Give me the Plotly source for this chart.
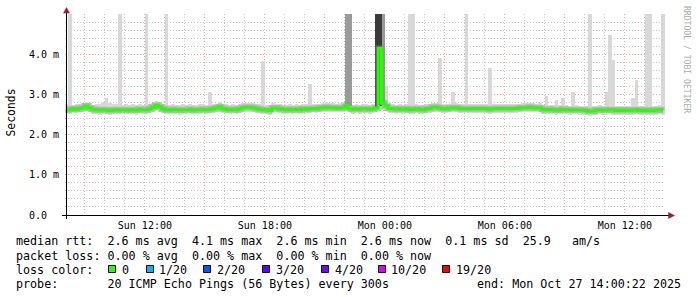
import plotly.graph_objects as go
import pandas as pd

# ---------------- data ----------------
BIN_START = "2025-10-26 08:00:00"
RANGE_START = "2025-10-26 08:00:22"
RANGE_END = "2025-10-27 14:00:22"
STEP_MIN = 10

median_rtt = [
    2.63, 2.62, 2.64, 2.63, 2.65, 2.67, 2.71, 2.66, 2.63, 2.62, 2.61, 2.62, 2.61, 2.60, 2.61, 2.62, 2.61, 2.62,
    2.62, 2.61, 2.62, 2.61, 2.63, 2.62, 2.62, 2.64, 2.68, 2.73, 2.69, 2.64, 2.62, 2.61, 2.63, 2.62, 2.61, 2.62,
    2.62, 2.63, 2.61, 2.62, 2.62, 2.63, 2.62, 2.63, 2.64, 2.66, 2.69, 2.65, 2.63, 2.62, 2.63, 2.62, 2.64, 2.67,
    2.68, 2.68, 2.67, 2.65, 2.63, 2.62, 2.62, 2.60, 2.66, 2.66, 2.64, 2.63, 2.62, 2.63, 2.62, 2.63, 2.62, 2.64,
    2.63, 2.64, 2.65, 2.64, 2.66, 2.67, 2.68, 2.67, 2.67, 2.66, 2.67, 2.66, 2.73, 2.65, 2.63, 2.64, 2.63, 2.64,
    2.64, 2.63, 2.64, 2.66, 4.15, 2.78, 2.72, 2.65, 2.64, 2.63, 2.64, 2.63, 2.64, 2.62, 2.63, 2.64, 2.63, 2.62,
    2.64, 2.65, 2.68, 2.68, 2.66, 2.65, 2.64, 2.66, 2.67, 2.67, 2.65, 2.64, 2.64, 2.65, 2.64, 2.65, 2.64, 2.65,
    2.64, 2.63, 2.64, 2.65, 2.64, 2.65, 2.65, 2.64, 2.65, 2.65, 2.66, 2.67, 2.67, 2.68, 2.67, 2.66, 2.67, 2.63,
    2.62, 2.63, 2.62, 2.61, 2.62, 2.63, 2.62, 2.61, 2.62, 2.62, 2.61, 2.61, 2.60, 2.58, 2.59, 2.61, 2.62, 2.61,
    2.61, 2.62, 2.61, 2.60, 2.61, 2.60, 2.61, 2.60, 2.61, 2.62, 2.60, 2.61, 2.60, 2.61, 2.60, 2.61, 2.62, 2.61,
]

# highest ping of each step (6.0 = beyond the top of the graph)
smoke_hi = [
    2.76, 6.0, 2.74, 2.75, 2.77, 2.78, 2.82, 2.78, 2.74, 2.76, 2.75, 2.80, 2.90, 2.78, 2.76, 2.75, 6.0, 2.74,
    2.75, 2.74, 2.76, 2.73, 2.75, 2.74, 6.0, 2.76, 2.79, 2.84, 2.80, 2.75, 6.0, 2.73, 2.75, 2.74, 2.73, 2.75,
    2.74, 2.75, 2.73, 2.74, 2.76, 2.75, 2.74, 3.05, 2.76, 2.77, 2.80, 2.77, 2.75, 2.74, 2.75, 2.74, 2.76, 2.78,
    2.79, 2.78, 2.78, 2.76, 2.75, 3.83, 2.74, 2.73, 2.78, 2.77, 2.75, 2.74, 2.73, 2.75, 2.74, 2.76, 2.74, 2.75,
    2.75, 3.27, 2.76, 2.75, 2.77, 2.78, 2.80, 2.78, 2.79, 2.77, 2.78, 2.77, 6.0, 6.0, 2.74, 2.75, 2.74, 2.75,
    2.75, 2.74, 2.75, 6.0, 6.0, 6.0, 3.20, 2.76, 2.75, 2.74, 2.75, 2.74, 2.75, 6.0, 6.0, 2.75, 2.74, 2.73,
    2.75, 2.76, 2.79, 2.78, 3.90, 2.76, 2.75, 2.77, 3.05, 2.78, 2.76, 2.75, 6.0, 2.76, 2.75, 2.76, 2.75, 2.76,
    2.75, 3.65, 2.75, 2.76, 2.75, 2.76, 2.77, 2.75, 2.76, 2.76, 2.77, 2.78, 2.79, 2.79, 2.78, 2.77, 2.78, 2.74,
    2.95, 2.74, 2.73, 2.87, 2.74, 2.90, 2.73, 2.72, 3.07, 2.73, 2.72, 2.72, 2.71, 6.0, 2.70, 2.72, 2.73, 2.72,
    3.05, 4.47, 3.85, 2.72, 2.71, 2.72, 2.71, 2.72, 2.90, 3.35, 2.71, 2.72, 6.0, 6.0, 2.72, 2.71, 2.73, 6.0,
]

# lowest ping of each step
smoke_lo = [
    2.54, 2.52, 2.55, 2.53, 2.55, 2.56, 2.59, 2.55, 2.52, 2.51, 2.50, 2.52, 2.51, 2.50, 2.52, 2.51, 2.52, 2.53,
    2.52, 2.51, 2.52, 2.50, 2.53, 2.52, 2.52, 2.54, 2.57, 2.60, 2.57, 2.53, 2.52, 2.51, 2.52, 2.52, 2.50, 2.52,
    2.52, 2.53, 2.51, 2.52, 2.52, 2.53, 2.52, 2.53, 2.54, 2.55, 2.57, 2.54, 2.53, 2.52, 2.53, 2.52, 2.53, 2.56,
    2.57, 2.56, 2.56, 2.54, 2.53, 2.52, 2.51, 2.50, 2.55, 2.55, 2.53, 2.52, 2.52, 2.53, 2.52, 2.53, 2.51, 2.53,
    2.53, 2.54, 2.55, 2.54, 2.55, 2.56, 2.57, 2.56, 2.56, 2.55, 2.56, 2.55, 2.60, 2.55, 2.52, 2.53, 2.52, 2.53,
    2.54, 2.52, 2.53, 2.56, 2.70, 2.62, 2.58, 2.54, 2.53, 2.52, 2.53, 2.52, 2.53, 2.51, 2.52, 2.53, 2.52, 2.51,
    2.53, 2.54, 2.56, 2.56, 2.55, 2.54, 2.53, 2.55, 2.56, 2.56, 2.54, 2.53, 2.53, 2.54, 2.53, 2.54, 2.53, 2.54,
    2.53, 2.52, 2.53, 2.54, 2.53, 2.54, 2.54, 2.53, 2.54, 2.54, 2.55, 2.56, 2.56, 2.57, 2.56, 2.55, 2.56, 2.52,
    2.51, 2.52, 2.51, 2.50, 2.51, 2.52, 2.51, 2.50, 2.51, 2.51, 2.50, 2.50, 2.48, 2.47, 2.48, 2.50, 2.51, 2.50,
    2.50, 2.51, 2.50, 2.49, 2.50, 2.49, 2.50, 2.49, 2.50, 2.51, 2.49, 2.50, 2.49, 2.50, 2.49, 2.50, 2.51, 2.50,
]

# steps where many pings were high (denser smoke)
mid_smoke_bins = [84, 85, 95]
mid_smoke_lo = [2.70, 2.70, 2.75]
mid_smoke_hi = [6.0, 6.0, 6.0]
dark_smoke_bins = [93, 94]
dark_smoke_lo = [2.68, 2.72]
dark_smoke_hi = [6.0, 6.0]

y_tick_vals = [0, 1, 2, 3, 4]
y_tick_text = ["0.0", "1.0 m", "2.0 m", "3.0 m", "4.0 m"]
x_tick_vals = ["2025-10-26 09:00", "2025-10-26 12:00", "2025-10-26 15:00", "2025-10-26 18:00",
               "2025-10-26 21:00", "2025-10-27 00:00", "2025-10-27 03:00", "2025-10-27 06:00",
               "2025-10-27 09:00", "2025-10-27 12:00"]
x_tick_text = ["", "Sun 12:00", "", "Sun 18:00", "", "Mon 00:00", "", "Mon 06:00", "", "Mon 12:00"]

legend_rtt = "median rtt:  2.6 ms avg  4.1 ms max  2.6 ms min  2.6 ms now  0.1 ms sd  25.9   am/s"
legend_loss = "packet loss: 0.00 % avg  0.00 % max  0.00 % min  0.00 % now"
legend_color_title = "loss color:"
loss_labels = ["0", "1/20", "2/20", "3/20", "4/20", "10/20", "19/20"]
loss_colors = ["#26ff00", "#00b8ff", "#0059ff", "#5e00ff", "#7e00ff", "#dd00ff", "#ff0000"]
probe_text = "probe:       20 ICMP Echo Pings (56 Bytes) every 300s"
end_text = "end: Mon Oct 27 14:00:22 2025"
y_title = "Seconds"
watermark = "RRDTOOL / TOBI OETIKER"

# ---------------- layout helpers ----------------
FW, FH = 697, 297
L, T, PW, PH = 65, 14, 600, 201
MONO = "DejaVu Sans Mono"


def px_x(px):
    return (px - L) / PW


def px_y(py):
    return 1 - (py - T) / PH


def nb(s):
    return s.replace(" ", "\u00a0")


step = pd.Timedelta(minutes=STEP_MIN)
bin_start = pd.date_range(BIN_START, periods=len(median_rtt), freq=f"{STEP_MIN}min")
centers = bin_start + step / 2
step_ms = STEP_MIN * 60 * 1000

fig = go.Figure()

# light smoke (full ping spread)
fig.add_trace(go.Bar(
    x=centers, base=smoke_lo, y=[h - l for h, l in zip(smoke_hi, smoke_lo)],
    width=step_ms * 1.04, marker=dict(color="#d8d8d8", line=dict(width=0)),
    hoverinfo="skip", showlegend=False))

# denser smoke
fig.add_trace(go.Bar(
    x=[centers[i] for i in mid_smoke_bins], base=mid_smoke_lo,
    y=[h - l for h, l in zip(mid_smoke_hi, mid_smoke_lo)],
    width=step_ms * 1.04, marker=dict(color="#9a9a9a", line=dict(width=0)),
    hoverinfo="skip", showlegend=False))
fig.add_trace(go.Bar(
    x=[centers[i] for i in dark_smoke_bins], base=dark_smoke_lo,
    y=[h - l for h, l in zip(dark_smoke_hi, dark_smoke_lo)],
    width=step_ms * 1.04, marker=dict(color="#3a3a3a", line=dict(width=0)),
    hoverinfo="skip", showlegend=False))

# inner smoke around the median
fig.add_trace(go.Scatter(
    x=centers, y=median_rtt, mode="lines", line=dict(color="#8a8a8a", width=6, shape="hvh"),
    opacity=0.42, hoverinfo="skip", showlegend=False))
# median line (loss 0 colour)
fig.add_trace(go.Scatter(
    x=centers, y=median_rtt, mode="lines", line=dict(color="#26ff00", width=3, shape="hvh"),
    hoverinfo="skip", showlegend=False))

fig.update_layout(
    width=FW, height=FH,
    margin=dict(l=L, r=FW - L - PW, t=T, b=FH - T - PH),
    paper_bgcolor="white", plot_bgcolor="white",
    barmode="overlay", bargap=0, showlegend=False,
    font=dict(family=MONO, color="#000000"),
)

fig.update_xaxes(
    type="date", range=[RANGE_START, RANGE_END],
    tickmode="array", tickvals=x_tick_vals, ticktext=x_tick_text,
    showgrid=True, gridcolor="#e3a6a6", griddash="1px,2px", gridwidth=1,
    minor=dict(dtick=3600000, tick0="2025-10-26 00:00", showgrid=True,
               gridcolor="#c4c4c4", griddash="1px,2px", gridwidth=1),
    ticks="", showline=False, zeroline=False,
    tickfont=dict(family=MONO, size=10, color="#000000"),
    ticklabelstandoff=3,
)
fig.update_yaxes(
    range=[0, 5.0], tickmode="array", tickvals=y_tick_vals,
    ticktext=[t + "\u00a0" * (5 - len(t)) for t in y_tick_text],
    showgrid=True, gridcolor="#e3a6a6", griddash="1px,2px", gridwidth=1,
    minor=dict(dtick=0.2, showgrid=True, gridcolor="#c4c4c4", griddash="1px,2px", gridwidth=1),
    ticks="", showline=False, zeroline=False,
    tickfont=dict(family=MONO, size=10, color="#000000"),
    ticklabelstandoff=5,
)

shapes = []
# axes lines
shapes.append(dict(type="line", xref="paper", yref="paper",
                   x0=px_x(66.5), x1=px_x(66.5), y0=px_y(219), y1=px_y(11),
                   line=dict(color="#000000", width=1)))
shapes.append(dict(type="line", xref="paper", yref="paper",
                   x0=px_x(62), x1=px_x(669), y0=px_y(215.5), y1=px_y(215.5),
                   line=dict(color="#000000", width=1)))
# arrow heads
arrow_col = "#9a2020"
shapes.append(dict(type="path", xref="paper", yref="paper",
                   path=f"M {px_x(63.5)},{px_y(13)} L {px_x(69.5)},{px_y(13)} L {px_x(66.5)},{px_y(7.5)} Z",
                   fillcolor=arrow_col, line=dict(color=arrow_col, width=0.5)))
shapes.append(dict(type="path", xref="paper", yref="paper",
                   path=f"M {px_x(668.5)},{px_y(212.5)} L {px_x(668.5)},{px_y(218.5)} L {px_x(674.5)},{px_y(215.5)} Z",
                   fillcolor=arrow_col, line=dict(color=arrow_col, width=0.5)))

annotations = []


def add_text(text, x, y, size=11.7, xanchor="left", color="#000000", angle=0):
    annotations.append(dict(
        text=nb(text), x=px_x(x), y=px_y(y), xref="paper", yref="paper",
        xanchor=xanchor, yanchor="middle", showarrow=False, textangle=angle,
        borderpad=0, borderwidth=0,
        font=dict(family=MONO, size=size, color=color)))


add_text(legend_rtt, 15.5, 241.5)
add_text(legend_loss, 15.5, 255.5)
add_text(legend_color_title, 15.5, 269.5)
add_text(probe_text, 15.5, 283.5)
add_text(end_text, 681, 283.5, xanchor="right")

square_x = [108, 146, 203, 262, 321, 378, 442]
label_x = [122, 158.5, 217, 276, 335, 391, 456]
for sx, lx, lab, col in zip(square_x, label_x, loss_labels, loss_colors):
    shapes.append(dict(type="rect", xref="paper", yref="paper",
                       x0=px_x(sx + 0.5), x1=px_x(sx + 7.5), y0=px_y(272.5), y1=px_y(265.5),
                       fillcolor=col, line=dict(color="#000000", width=1)))
    add_text(lab, lx, 269.5)

add_text(y_title, 10.5, 113, size=11.4, xanchor="center", angle=-90)
add_text(watermark, 687, 59, size=8.1, xanchor="center", color="#aaaaaa", angle=90)

fig.update_layout(shapes=shapes, annotations=annotations)

fig.write_html("out.html")
